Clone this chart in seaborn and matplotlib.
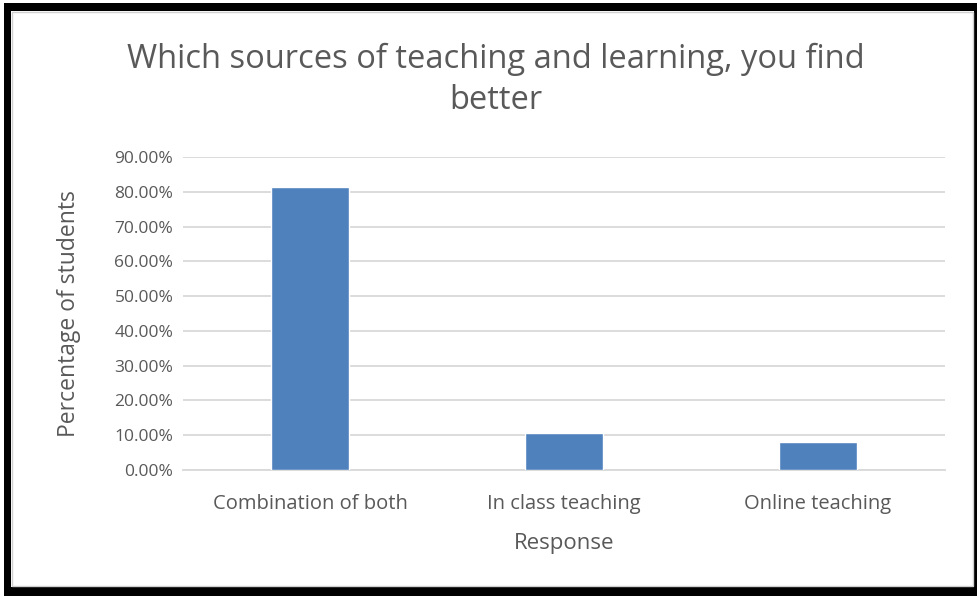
import matplotlib
matplotlib.use("Agg")
import matplotlib.pyplot as plt
import seaborn as sns
import pandas as pd
from matplotlib.patches import Rectangle
from matplotlib.ticker import FuncFormatter, MultipleLocator

responses = ["Combination of both", "In class teaching", "Online teaching"]
share = [0.813, 0.105, 0.080]

df = pd.DataFrame({"Response": responses, "Percentage of students": share})

sns.set_theme(style="white")
plt.rcParams["font.family"] = ["Open Sans", "DejaVu Sans"]

grey = "#595959"
W, H = 977, 596
fig = plt.figure(figsize=(W / 100, H / 100), dpi=100)
ax = fig.add_axes([183 / W, 1 - 470 / H, (945 - 183) / W, (470 - 157) / H])

sns.barplot(data=df, x="Response", y="Percentage of students", color="#4F81BD",
            saturation=1, width=0.31, ax=ax, zorder=3)

ax.set_ylim(0, 0.9)
ax.set_xlim(-0.5, 2.5)
ax.yaxis.set_major_locator(MultipleLocator(0.1))
ax.yaxis.set_major_formatter(FuncFormatter(lambda v, p: f"{v * 100:.2f}%"))
ax.grid(axis="y", color="#D9D9D9", linewidth=1.3, zorder=0)
ax.set_axisbelow(True)
for s in ["top", "right", "left"]:
    ax.spines[s].set_visible(False)
ax.spines["bottom"].set_color("#D9D9D9")
ax.spines["bottom"].set_linewidth(1.3)
ax.tick_params(axis="both", length=0, labelcolor=grey)
ax.tick_params(axis="y", pad=7, labelsize=12.5)
ax.tick_params(axis="x", pad=17, labelsize=14.5)
ax.set_xlabel("Response", fontsize=16, color=grey, labelpad=14)
ax.set_ylabel("Percentage of students", fontsize=16.5, color=grey, labelpad=24)

fig.text(0.507, 1 - 80 / H, "Which sources of teaching and learning, you find\nbetter",
         ha="center", va="center", fontsize=23.5, color=grey, linespacing=1.3)


def px_rect(x0, y0, x1, y1, color, fill=True, lw=0):
    # rectangle given in pixel coords, origin top-left
    r = Rectangle((x0 / W, 1 - y1 / H), (x1 - x0) / W, (y1 - y0) / H,
                  transform=fig.transFigure, facecolor=color if fill else "none",
                  edgecolor=color, linewidth=lw, fill=fill)
    fig.patches.append(r)


# outer frame
px_rect(4, 3, 11, 596, "black")
px_rect(4, 3, 977, 11, "black")
px_rect(974, 3, 977, 596, "black")
px_rect(4, 587, 977, 596, "black")
px_rect(12, 12, 973, 586, "#D0D0D0", fill=False, lw=1)

fig.savefig("out.png", dpi=100)
